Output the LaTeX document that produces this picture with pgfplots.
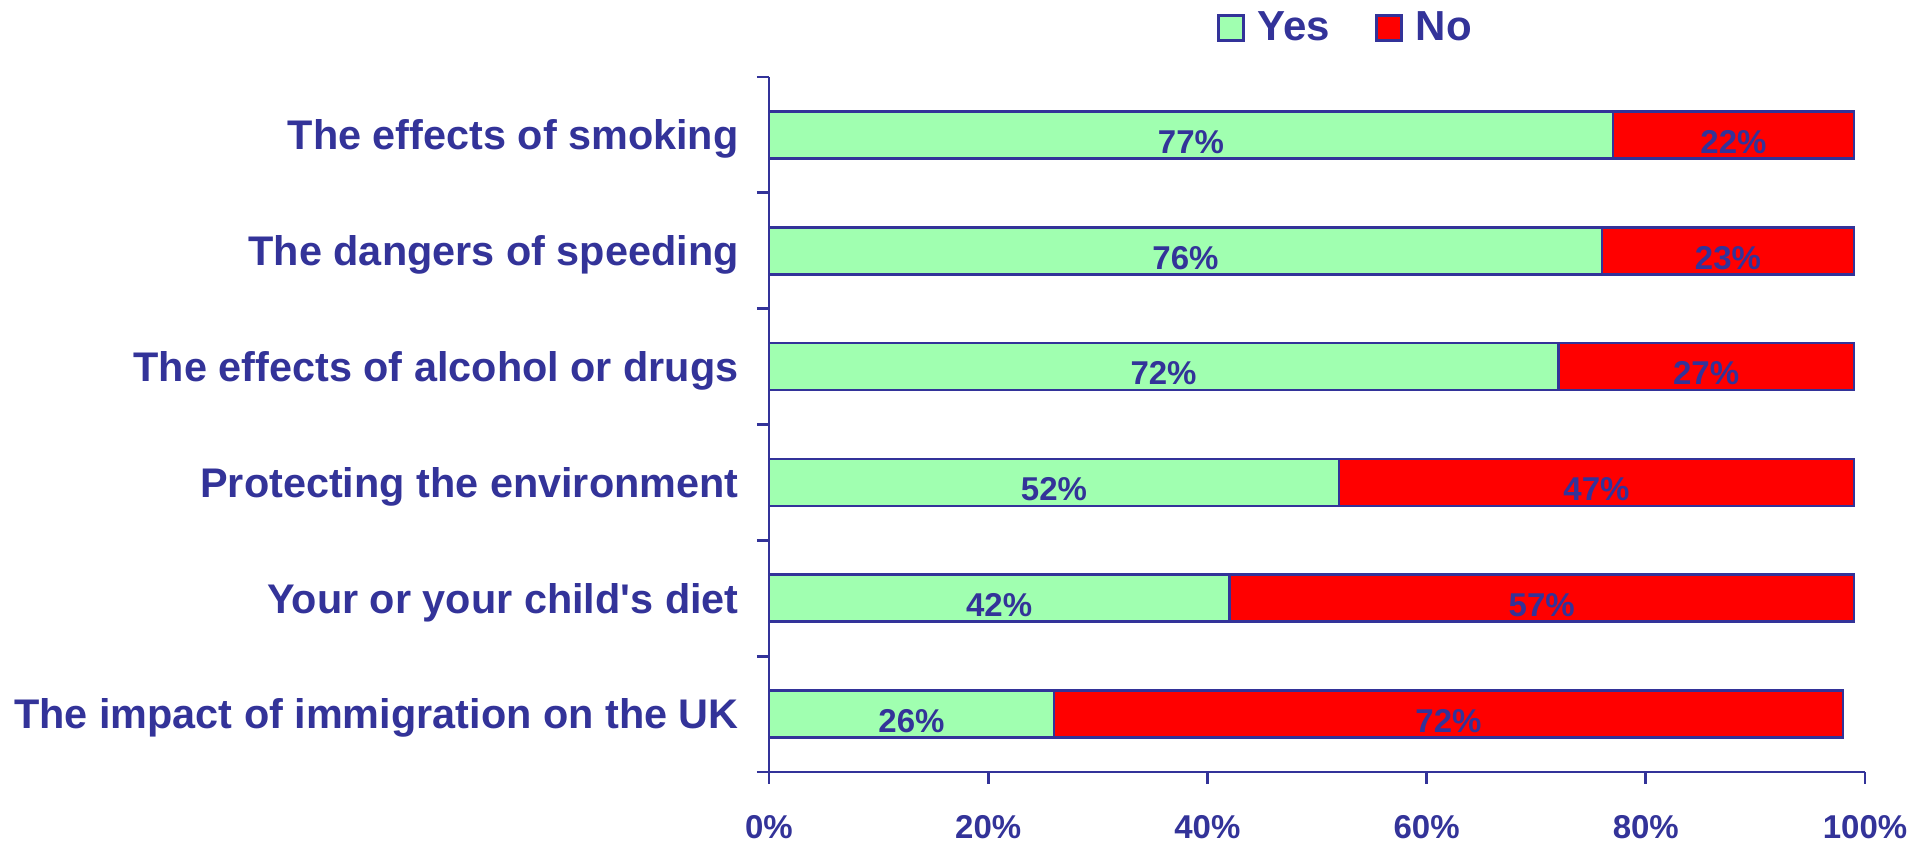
\documentclass[border=0pt]{standalone}
\usepackage{pgfplots}
\pgfplotsset{compat=1.18}
\usepackage{pgfplotstable}
\usepackage{fontspec}
\setmainfont{Liberation Sans}
\definecolor{navy}{RGB}{51,51,153}
\definecolor{lgreen}{RGB}{160,255,176}
\definecolor{bred}{RGB}{255,0,0}
\pgfplotstableread{
y yes no
1 26 72
2 42 57
3 52 47
4 72 27
5 76 23
6 77 22
}\datatable
\begin{document}
\begin{tikzpicture}
\useasboundingbox (-384.5pt,-36pt) rectangle (573pt,386pt);
\begin{axis}[
  at={(0,0)}, anchor=south west,
  scale only axis, width=548pt, height=347.5pt,
  xbar stacked, bar width=23.5pt,
  xmin=0, xmax=100, ymin=0.5, ymax=6.5,
  axis x line*=bottom, axis y line*=left,
  axis line style={navy, line width=1.4pt},
  tick align=outside, major tick length=6pt,
  /pgf/number format/assume math mode=true,
  xtick={0,20,40,60,80,100},
  xticklabels={0\%,20\%,40\%,60\%,80\%,100\%},
  xtick style={navy, line width=1.4pt},
  xticklabel style={font=\fontsize{16.5}{19}\selectfont\bfseries, text=navy, anchor=base, inner sep=0pt, yshift=-27.3pt},
  ytick={1,2,3,4,5,6},
  yticklabels={The impact of immigration on the UK, {Your or your child\textquotesingle s diet}, Protecting the environment, The effects of alcohol or drugs, The dangers of speeding, The effects of smoking},
  ytick style={draw=none},
  yticklabel style={font=\fontsize{20.7}{24}\selectfont\bfseries, text=navy, anchor=base east, inner sep=0pt, xshift=-9pt, yshift=-7.4pt},
  extra y ticks={0.5,1.5,2.5,3.5,4.5,5.5,6.5},
  extra y tick labels={},
  extra y tick style={ytick style={draw=navy, line width=1.4pt}},
  legend style={draw=none, fill=none, at={(0.527,1)}, anchor=center, yshift=24.5pt,
    font=\fontsize{21}{24}\selectfont\bfseries, text=navy,
    legend columns=2,
    /tikz/every odd column/.append style={column sep=4.3pt},
    /tikz/every even column/.append style={column sep=20.5pt}},
  legend image code/.code={\draw[#1, line width=1.4pt] (0pt,-6.25pt) rectangle (12.5pt,6.25pt);},
  nodes near coords={\pgfmathprintnumber{\pgfplotspointmeta}\%},
  every node near coord/.append style={font=\fontsize{16.5}{19}\selectfont\bfseries, text=navy, anchor=center, yshift=-3.5pt},
  clip=false,
]
\addplot[draw=navy, fill=lgreen, line width=1.4pt] table[x=yes, y=y] {\datatable};
\addplot[draw=navy, fill=bred, line width=1.4pt] table[x=no, y=y] {\datatable};
\legend{Yes, No}
\end{axis}
\end{tikzpicture}
\end{document}
